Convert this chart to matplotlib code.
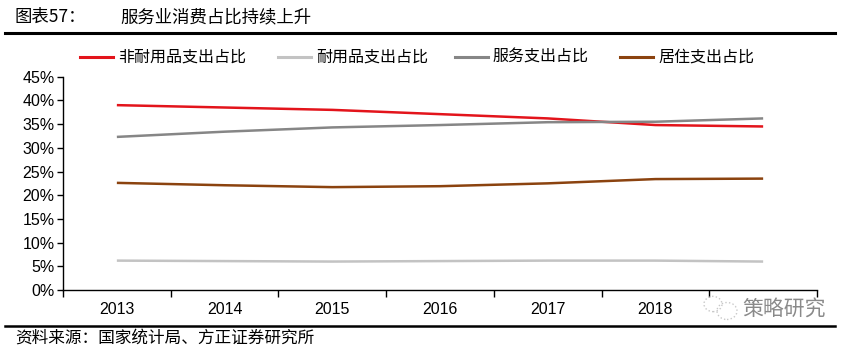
import numpy as np
from matplotlib import pyplot as plt
from matplotlib.lines import Line2D
from matplotlib.patches import Ellipse

plt.rcParams['font.family'] = ['Noto Sans CJK SC', 'DejaVu Sans']

years = ['2013', '2014', '2015', '2016', '2017', '2018', '2019']
year_labels = ['2013', '2014', '2015', '2016', '2017', '2018', '']
nondurable = [39.0, 38.5, 38.0, 37.1, 36.2, 34.8, 34.5]
durable = [6.2, 6.1, 6.0, 6.1, 6.2, 6.2, 6.0]
service = [32.3, 33.4, 34.3, 34.8, 35.4, 35.5, 36.2]
housing = [22.6, 22.1, 21.7, 21.9, 22.5, 23.4, 23.5]

names = ['非耐用品支出占比', '耐用品支出占比', '服务支出占比', '居住支出占比']
colors = ['#E3141B', '#C3C3C3', '#868686', '#8B430F']
series = [nondurable, durable, service, housing]

W, H = 855, 350
tick_font = ['Liberation Sans Narrow', 'Liberation Sans']

fig = plt.figure(figsize=(8.55, 3.5), dpi=100)
ax = fig.add_axes([63 / W, 1 - 290 / H, (817 - 63) / W, (290 - 76.7) / H])

x = np.arange(len(years))
for vals, c in zip(series, colors):
    ax.plot(x, vals, color=c, lw=1.8, solid_capstyle='butt')

ax.set_xlim(-0.5, len(years) - 0.5)
ax.set_ylim(0, 45)
ax.set_yticks(np.arange(0, 46, 5))
ax.set_yticklabels([f'{v}%' for v in range(0, 46, 5)], family=tick_font, fontsize=11.5)
ax.set_xticks(x)
ax.set_xticklabels(year_labels, family=tick_font, fontsize=11.5)
ax.set_xticks(np.arange(-0.5, len(years)), minor=True)
ax.tick_params(axis='x', which='major', length=0, pad=9)
ax.tick_params(axis='x', which='minor', length=5, width=1, direction='out')
ax.tick_params(axis='y', length=4, width=1, direction='out', pad=2)
ax.spines['right'].set_visible(False)
ax.spines['top'].set_visible(False)
ax.spines['left'].set_linewidth(1)
ax.spines['bottom'].set_linewidth(1)

# legend, placed entry by entry like the original
leg_x = [80, 278, 455, 620]
leg_y = 1 - 57 / H
for lx, name, c in zip(leg_x, names, colors):
    fig.add_artist(Line2D([lx / W, (lx + 33) / W], [leg_y, leg_y], color=c, lw=2.2))
    fig.text((lx + 38) / W, leg_y, name, fontsize=11.5, va='center')

# title and rules
fig.text(15 / W, 1 - 17 / H, '图表57：', fontsize=12.5, va='center')
fig.text(120 / W, 1 - 17 / H, '服务业消费占比持续上升', fontsize=12.5, va='center')
fig.add_artist(Line2D([5 / W, 835 / W], [1 - 33 / H, 1 - 33 / H], color='black', lw=2.2))
fig.add_artist(Line2D([5 / W, 835 / W], [1 - 326 / H, 1 - 326 / H], color='black', lw=1.8))
fig.text(15 / W, 1 - 338 / H, '资料来源：国家统计局、方正证券研究所', fontsize=12, va='center')

# watermark
fig.text(742 / W, 1 - 309 / H, '策略研究', fontsize=15, color='#8A8A8A', va='center')
for cx, cy, r in [(713, 304, 9), (727, 311, 10)]:
    fig.add_artist(Ellipse((cx / W, 1 - cy / H), 2 * r / W, 2 * r * 0.85 / H,
                           fill=False, ec='#C8C8C8', lw=1, ls=':'))

fig.savefig('out.png', dpi=100)
